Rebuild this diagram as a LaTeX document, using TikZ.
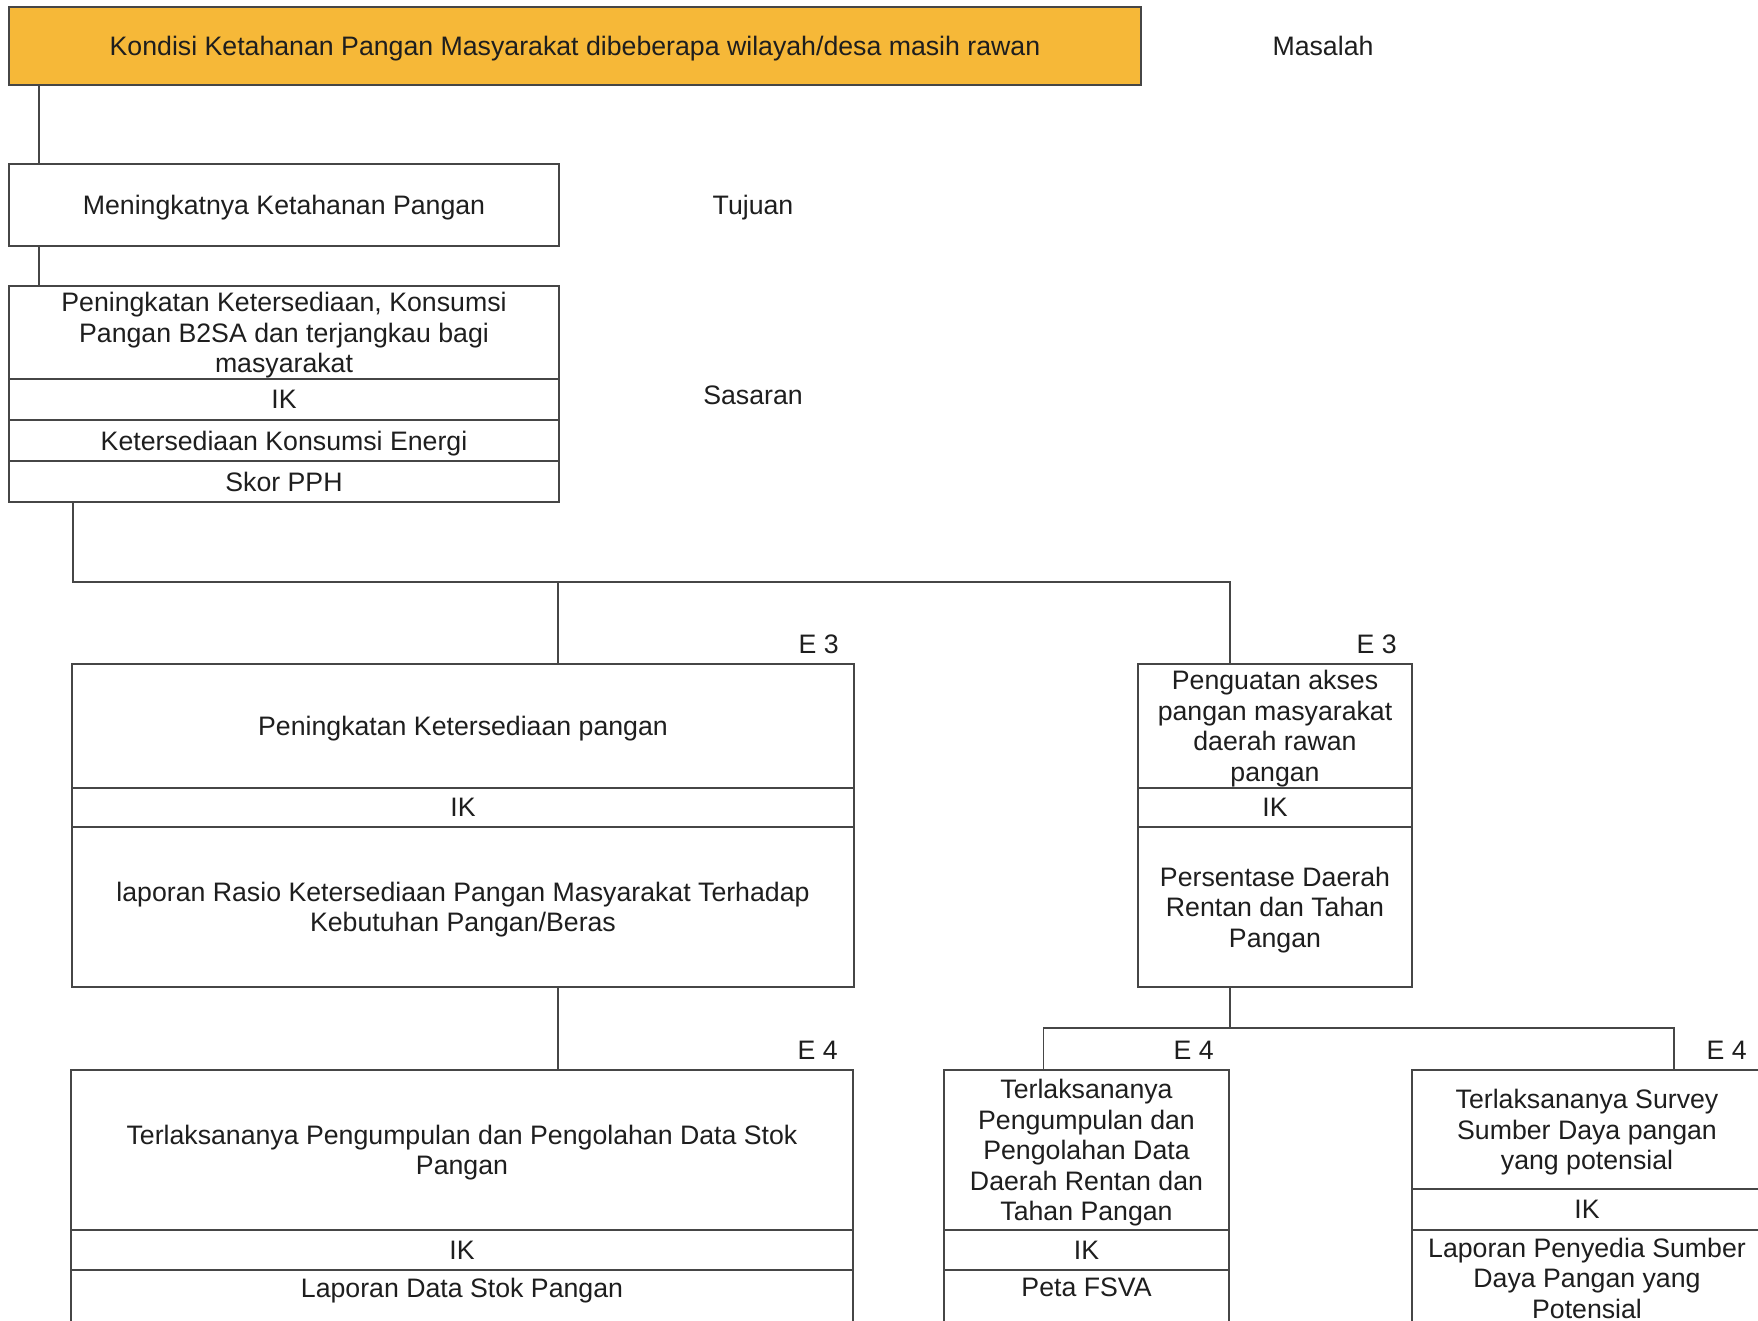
\documentclass[tikz,border=0pt]{standalone}
\usepackage{fontspec}
\setmainfont{Liberation Sans}
\usepackage{tikz}
\usetikzlibrary{positioning}
\definecolor{kuning}{RGB}{246,184,56}
\definecolor{garis}{RGB}{70,70,70}
\definecolor{teks}{RGB}{30,30,30}
\newcommand{\kotakfont}{\fontsize{26.7}{30.5}\selectfont}

\begin{document}
\begin{tikzpicture}[x=1pt, y=-1pt,
		kotak/.style = {draw=garis, line width=1.5pt, align=center, inner xsep=0pt, inner ysep=1pt, outer sep=0pt, text depth=0pt, text=teks, font=\kotakfont},
		isi/.style = {kotak, inner ysep=8pt, text depth=70pt},
		ket/.style = {text=teks, text depth=0pt, font=\kotakfont},
		kode/.style = {anchor=south east, inner sep=0pt, xshift=-15pt, yshift=10pt, text=teks, font=\kotakfont},
		hubung/.style = {draw=garis, line width=1.5pt}]
	\fill[white] (0,0) rectangle (1758,1321);
	\useasboundingbox (0,0) rectangle (1758,1321);
	\clip (0,0) rectangle (1758,1321);

	\node[kotak, fill=kuning, anchor=north west, minimum width=1132pt, minimum height=78pt] (kondisi) at (9,7) {Kondisi Ketahanan Pangan Masyarakat dibeberapa wilayah/desa masih rawan};
	\node[ket] (masalah) at (1323,46) {Masalah};

	\node[kotak, anchor=north west, minimum width=550pt, minimum height=82pt] (tujuan) at (9,164) {Meningkatnya Ketahanan Pangan};
	\node[ket] (tujuan-ket) at (753,205) {Tujuan};

	\node[kotak, anchor=north west, minimum width=550pt, minimum height=93pt] (sas) at (9,286) {Peningkatan Ketersediaan, Konsumsi\\Pangan B2SA dan terjangkau bagi\\masyarakat};
	\node[kotak, below=0pt of sas, minimum width=550pt, minimum height=41pt] (sasik) {IK};
	\node[kotak, below=0pt of sasik, minimum width=550pt, minimum height=41pt] (sasa) {Ketersediaan Konsumsi Energi};
	\node[kotak, below=0pt of sasa, minimum width=550pt, minimum height=41pt] (sasb) {Skor PPH};
	\node[ket] (sasaran-ket) at (753,395) {Sasaran};

	\node[kotak, anchor=north west, minimum width=782pt, minimum height=124pt] (e3l) at (72,664) {Peningkatan Ketersediaan pangan};
	\node[kotak, below=0pt of e3l, minimum width=782pt, minimum height=39pt] (e3lik) {IK};
	\node[kotak, below=0pt of e3lik, minimum width=782pt, minimum height=160pt] (e3lb) {laporan Rasio Ketersediaan Pangan Masyarakat Terhadap\\Kebutuhan Pangan/Beras};
	\node[kode] (e3l-kode) at (e3l.north east) {E 3};

	\node[kotak, anchor=north west, minimum width=274pt, minimum height=124pt] (e3r) at (1138,664) {Penguatan akses\\pangan masyarakat\\daerah rawan\\pangan};
	\node[kotak, below=0pt of e3r, minimum width=274pt, minimum height=39pt] (e3rik) {IK};
	\node[kotak, below=0pt of e3rik, minimum width=274pt, minimum height=160pt] (e3rb) {Persentase Daerah\\Rentan dan Tahan\\Pangan};
	\node[kode] (e3r-kode) at (e3r.north east) {E 3};

	\node[kotak, anchor=north west, minimum width=782pt, minimum height=160pt] (e4l) at (71,1070) {Terlaksananya Pengumpulan dan Pengolahan Data Stok\\Pangan};
	\node[kotak, below=0pt of e4l, minimum width=782pt, minimum height=40pt] (e4lik) {IK};
	\node[isi, below=0pt of e4lik, minimum width=782pt] (e4lb) {Laporan Data Stok Pangan};
	\node[kode] (e4l-kode) at (e4l.north east) {E 4};

	\node[kotak, anchor=north west, minimum width=285pt, minimum height=160pt] (e4m) at (944,1070) {Terlaksananya\\Pengumpulan dan\\Pengolahan Data\\Daerah Rentan dan\\Tahan Pangan};
	\node[kotak, below=0pt of e4m, minimum width=285pt, minimum height=40pt] (e4mik) {IK};
	\node[isi, below=0pt of e4mik, minimum width=285pt] (e4mb) {Peta FSVA};
	\node[kode] (e4m-kode) at (e4m.north east) {E 4};

	\node[kotak, anchor=north west, minimum width=350pt, minimum height=119pt] (e4r) at (1412,1070) {Terlaksananya Survey\\Sumber Daya pangan\\yang potensial};
	\node[kotak, below=0pt of e4r, minimum width=350pt, minimum height=41pt] (e4rik) {IK};
	\node[isi, below=0pt of e4rik, minimum width=350pt] (e4rb) {Laporan Penyedia Sumber\\Daya Pangan yang\\Potensial};
	\node[kode] (e4r-kode) at (e4r.north east) {E 4};

	\coordinate (bus1) at (558,582);
	\coordinate (bus2) at (1230,1028);
	\draw[hubung] ([xshift=30pt]kondisi.south west) -- ([xshift=30pt]tujuan.north west);
	\draw[hubung] ([xshift=30pt]tujuan.south west) -- ([xshift=30pt]sas.north west);
	\draw[hubung] ([xshift=64pt]sasb.south west) |- (bus1) -| ([xshift=-45pt]e3r.north);
	\draw[hubung] (bus1) -- (bus1 |- e3l.north);
	\draw[hubung] ([xshift=95pt]e3lb.south) -- ([xshift=95pt]e3lb.south |- e4l.north);
	\draw[hubung] ([xshift=-45pt]e3rb.south) -- (bus2);
	\draw[hubung] ([xshift=-43pt]e4m.north) |- (bus2) -| ([xshift=87pt]e4r.north);
\end{tikzpicture}
\end{document}
